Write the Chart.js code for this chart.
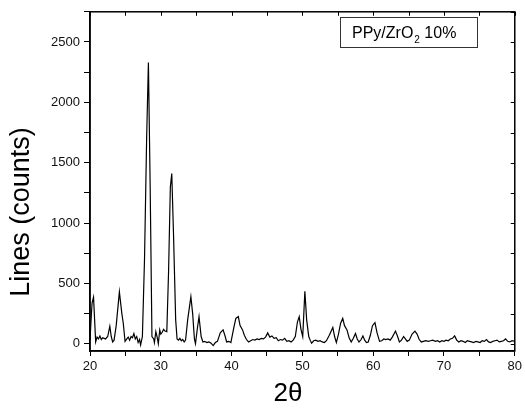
<!DOCTYPE html>
<html>
<head>
<meta charset="utf-8">
<script src="https://cdn.jsdelivr.net/npm/chart.js@4/dist/chart.umd.min.js"></script>
<style>
html,body{margin:0;padding:0;background:#fff;}
#wrap{width:525px;height:409px;position:relative;}
</style>
</head>
<body>
<div id="wrap"><canvas id="c" width="525" height="409"></canvas></div>
<script>
// 2θ positions (degrees)
const twoTheta = [
20.0,20.2,20.3,20.5,20.65,20.8,21.0,21.2,21.4,21.6,21.8,22.0,22.2,22.5,22.8,23.0,23.2,23.4,23.7,24.15,
24.5,24.7,24.95,25.2,25.4,25.6,25.8,26.0,26.2,26.4,26.6,26.8,27.0,27.15,27.4,27.7,28.0,28.25,28.5,28.75,
29.0,29.1,29.3,29.5,29.65,29.85,30.0,30.2,30.4,30.6,30.85,31.1,31.35,31.55,31.8,32.1,32.3,32.5,32.7,32.9,
33.1,33.3,33.5,33.8,34.25,34.5,34.75,34.9,35.15,35.4,35.7,35.95,36.2,36.5,36.8,37.1,37.4,37.7,38.0,38.4,
38.8,39.1,39.3,39.6,39.9,40.3,40.6,40.95,41.2,41.55,41.8,42.1,42.4,42.7,43.0,43.3,43.6,43.9,44.2,44.5,
44.8,45.1,45.4,45.7,46.0,46.3,46.6,46.9,47.2,47.5,47.8,48.1,48.4,48.7,49.0,49.3,49.55,49.8,50.05,50.35,
50.6,50.9,51.1,51.3,51.6,51.9,52.2,52.5,52.8,53.1,53.4,53.8,54.3,54.55,54.8,55.1,55.4,55.7,55.95,56.3,
56.6,56.9,57.2,57.5,57.75,58.0,58.3,58.55,58.8,59.05,59.3,59.6,59.9,60.25,60.55,60.9,61.2,61.5,61.8,62.1,
62.4,62.7,63.15,63.45,63.7,64.0,64.3,64.55,64.8,65.1,65.5,65.9,66.2,66.5,66.8,67.1,67.4,67.8,68.1,68.4,
68.8,69.1,69.4,69.7,70.0,70.3,70.6,70.9,71.2,71.5,71.8,72.1,72.4,72.7,73.0,73.3,73.6,73.9,74.2,74.5,
74.8,75.1,75.4,75.7,76.0,76.3,76.6,76.9,77.2,77.5,77.8,78.1,78.4,78.7,79.0,79.3,79.6,80.0
];
// intensity (counts)
const counts = [
30,250,340,385,200,15,55,40,65,35,50,45,40,60,145,60,15,30,150,430,
250,170,20,40,55,30,60,50,85,40,60,10,35,-10,60,700,1700,2330,1300,60,
40,10,100,50,0,115,80,95,120,105,100,600,1300,1410,900,200,40,30,45,25,
35,15,30,200,390,250,40,0,120,225,60,15,20,10,15,5,-15,10,20,90,
115,60,15,20,10,130,210,225,150,115,70,35,15,25,35,30,40,35,45,40,
55,90,55,65,45,50,25,35,30,45,20,25,15,30,60,180,225,120,60,435,
200,60,30,5,25,30,20,25,15,10,25,70,135,60,10,80,170,210,150,115,
50,15,45,85,40,15,35,65,30,10,15,70,150,175,90,20,25,40,35,40,
30,55,105,60,15,30,60,40,20,30,80,105,80,35,15,20,25,20,25,30,
20,25,15,25,20,30,25,40,45,65,30,15,25,20,10,25,20,15,10,20,
15,10,25,20,35,15,10,20,25,30,15,20,25,40,20,15,25,20
];
const xTickLabels = ['20','30','40','50','60','70','80'];
const yTickLabels = ['0','500','1000','1500','2000','2500'];
const legendMain = 'PPy/ZrO';
const legendSub = '2';
const legendTail = ' 10%';
const xTitle = '2θ';
const yTitle = 'Lines (counts)';

const points = twoTheta.map((x, i) => ({x: x, y: counts[i]}));
const FONT = "'Liberation Sans', Arial, sans-serif";

const decor = {
  id: 'decor',
  afterDraw(chart) {
    const ctx = chart.ctx;
    const a = chart.chartArea;
    const xs = chart.scales.x, ys = chart.scales.y;
    ctx.save();
    ctx.strokeStyle = '#000';
    ctx.lineWidth = 1.5;
    ctx.strokeRect(a.left, a.top, a.right - a.left, a.bottom - a.top);
    ctx.lineWidth = 1;
    // top ticks (inward)
    for (let v = 20; v <= 80; v += 5) {
      const px = Math.round(xs.getPixelForValue(v)) + 0.5;
      ctx.beginPath(); ctx.moveTo(px, a.top); ctx.lineTo(px, a.top + 4); ctx.stroke();
    }
    // right ticks (inward)
    for (let v = 0; v <= 2750; v += 250) {
      const py = Math.round(ys.getPixelForValue(v)) + 0.5;
      ctx.beginPath(); ctx.moveTo(a.right, py); ctx.lineTo(a.right - 4, py); ctx.stroke();
    }
    // legend box
    ctx.lineWidth = 1;
    ctx.strokeStyle = '#333';
    ctx.strokeRect(340.5, 17.5, 137, 30);
    ctx.fillStyle = '#000';
    ctx.textBaseline = 'alphabetic';
    ctx.textAlign = 'left';
    ctx.font = '16px ' + FONT;
    let tx = 352;
    const ty = 38;
    ctx.fillText(legendMain, tx, ty);
    tx += ctx.measureText(legendMain).width;
    ctx.font = '10px ' + FONT;
    ctx.fillText(legendSub, tx + 1, ty + 5);
    tx += ctx.measureText(legendSub).width + 1;
    ctx.font = '16px ' + FONT;
    ctx.fillText(legendTail, tx, ty);
    // axis titles
    ctx.font = '26px ' + FONT;
    ctx.textAlign = 'center';
    ctx.textBaseline = 'middle';
    ctx.fillText(xTitle, 288, 394);
    ctx.save();
    ctx.translate(22, 212);
    ctx.rotate(-Math.PI / 2);
    ctx.font = '27px ' + FONT;
    ctx.fillText(yTitle, 0, 0);
    ctx.restore();
    ctx.restore();
  }
};

new Chart(document.getElementById('c'), {
  type: 'line',
  data: {
    datasets: [{
      data: points,
      borderColor: '#000',
      borderWidth: 1.2,
      pointRadius: 0,
      tension: 0,
      fill: false
    }]
  },
  options: {
    responsive: false,
    animation: false,
    devicePixelRatio: 1,
    layout: {padding: {left: 0, top: 9, right: 10, bottom: 0}},
    plugins: {legend: {display: false}, tooltip: {enabled: false}},
    scales: {
      x: {
        type: 'linear',
        min: 20, max: 80,
        afterFit(s) { s.height = 58; },
        afterBuildTicks(s) {
          const t = [];
          for (let v = 20; v <= 80; v += 5) t.push({value: v});
          s.ticks = t;
        },
        ticks: {
          autoSkip: false,
          maxRotation: 0,
          color: '#111',
          font: {family: FONT, size: 13},
          padding: 3,
          callback(v) {
            const i = xTickLabels.indexOf(String(v));
            return i >= 0 ? xTickLabels[i] : '';
          }
        },
        grid: {drawOnChartArea: false, drawTicks: true, tickLength: 5, color: '#000', tickColor: '#000', tickWidth: 1},
        border: {display: true, color: '#000', width: 1.5}
      },
      y: {
        type: 'linear',
        min: -60, max: 2750,
        afterFit(s) { s.width = 90; },
        afterBuildTicks(s) {
          const t = [];
          for (let v = 0; v <= 2750; v += 250) t.push({value: v});
          s.ticks = t;
        },
        ticks: {
          autoSkip: false,
          color: '#111',
          font: {family: FONT, size: 13},
          padding: 4,
          callback(v) {
            const i = yTickLabels.indexOf(String(v));
            return i >= 0 ? yTickLabels[i] : '';
          }
        },
        grid: {drawOnChartArea: false, drawTicks: true, tickLength: 6, color: '#000', tickColor: '#000', tickWidth: 1},
        border: {display: true, color: '#000', width: 1.5}
      }
    }
  },
  plugins: [decor]
});
</script>
</body>
</html>
